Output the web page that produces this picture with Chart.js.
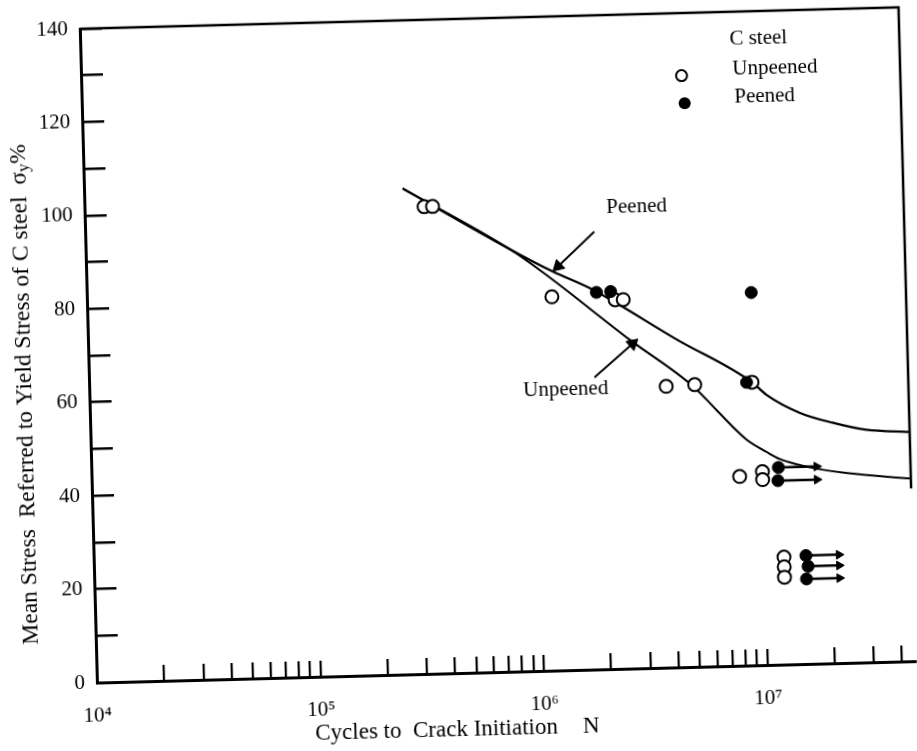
<!DOCTYPE html>
<html>
<head>
<meta charset="utf-8">
<title>Mean stress vs cycles to crack initiation</title>
<script src="https://cdn.jsdelivr.net/npm/chart.js@4.4.1/dist/chart.umd.min.js"></script>
<style>
    html, body { margin: 0; padding: 0; background: #fff; overflow: hidden; }
    #wrap { width: 917px; height: 751px; transform: rotate(-1.5deg); transform-origin: 50% 50%; }
</style>
</head>
<body>
<div id="wrap"><canvas id="chartCanvas" width="917" height="751"></canvas></div>
<script>
// open circles - unpeened specimens (N cycles, stress in % of yield)
const unpeenedN = [3.3e5, 3.6e5, 1.2e6, 2.3e6, 2.5e6, 3.8e6, 5.1e6, 9.2e6, 7.9e6, 1.0e7, 1.0e7, 1.22e7, 1.22e7, 1.22e7];
const unpeenedS = [100, 100, 80, 79, 79, 60.2, 60.4, 60.6, 40.5, 41.4, 39.7, 23, 20.9, 18.7];

// filled circles - peened specimens
const peenedN = [1.9e6, 2.2e6, 8.7e6, 9.35e6, 1.18e7, 1.17e7, 1.53e7, 1.56e7, 1.53e7];
const peenedS = [80.7, 80.8, 60.6, 79.8, 42.2, 39.4, 23.2, 20.9, 18.2];

// run-outs (no crack), drawn as arrows to the right
const runoutS = [42.2, 39.4, 23.2, 20.9, 18.2];
const runoutFromN = [1.18e7, 1.17e7, 1.53e7, 1.56e7, 1.53e7];
const runoutToN = [1.75e7, 1.75e7, 2.15e7, 2.15e7, 2.15e7];

// fitted curves
const peenedCurveN = [2.66e5, 7.9e5, 1.22e6, 1.83e6, 4.28e6, 9.2e6, 1.06e7, 1.49e7, 2.08e7, 2.94e7, 4.6e7];
const peenedCurveS = [104.0, 90.4, 85.4, 81.3, 70.2, 60.6, 57.9, 53.8, 51.5, 49.8, 49.1];
const unpeenedCurveN = [2.66e5, 7.9e5, 1.10e6, 2.64e6, 5.08e6, 6.32e6, 8.55e6, 1.05e7, 1.2e7, 1.42e7, 1.85e7, 2.4e7, 4.6e7];
const unpeenedCurveS = [104.0, 90.4, 85.3, 70.4, 59.8, 54.9, 48.4, 45.6, 44.0, 42.8, 41.5, 40.6, 39.1];

// axes
const xTickValues = [
    1e4, 2e4, 3e4, 4e4, 5e4, 6e4, 7e4, 8e4, 9e4,
    1e5, 2e5, 3e5, 4e5, 5e5, 6e5, 7e5, 8e5, 9e5,
    1e6, 2e6, 3e6, 4e6, 5e6, 6e6, 7e6, 8e6, 9e6,
    1e7, 2e7, 3e7, 4e7
];
const xTickLabels = { 1e4: '10⁴', 1e5: '10⁵', 1e6: '10⁶', 1e7: '10⁷' };
const yTickValues = [0, 10, 20, 30, 40, 50, 60, 70, 80, 90, 100, 110, 120, 130, 140];
const yTickLabels = ['0', '20', '40', '60', '80', '100', '120', '140'];

const xTitle = 'Cycles to  Crack Initiation';
const xTitleSymbol = 'N';
const yTitle = 'Mean Stress  Referred to Yield Stress of C steel  σ';

// labels on the curves and their pointer arrows
const curveLabels = [
    { text: 'Peened', n: 2.94e6, s: 98.8 },
    { text: 'Unpeened', n: 1.35e6, s: 60.1 }
];
const pointerFromN = [1.89e6, 1.82e6];
const pointerFromS = [93.7, 62.5];
const pointerToN = [1.29e6, 2.72e6];
const pointerToS = [86.5, 69.5];

// key
const legendTitle = { text: 'C steel', n: 8.0e6, s: 134.1 };
const legendItems = [
    { text: 'Unpeened', filled: false, markN: 4.84e6, markS: 126.6, n: 8.18e6, s: 127.7 },
    { text: 'Peened', filled: true, markN: 4.96e6, markS: 120.7, n: 8.28e6, s: 121.6 }
];

const SERIF = '"Liberation Serif", "Times New Roman", "DejaVu Serif", serif';

function toPoints(ns, ss) {
    return ns.map((n, i) => ({ x: n, y: ss[i] }));
}

function arrowDataset(fromN, fromS, toN, toS, width, head) {
    return {
        type: 'line',
        data: [{ x: fromN, y: fromS }, { x: toN, y: toS }],
        borderColor: '#000',
        backgroundColor: '#000',
        borderWidth: width,
        pointStyle: 'triangle',
        pointRadius: [0, head],
        pointBorderWidth: 1,
        pointRotation: ctx => {
            const sx = ctx.chart.scales.x;
            const sy = ctx.chart.scales.y;
            const dx = sx.getPixelForValue(toN) - sx.getPixelForValue(fromN);
            const dy = sy.getPixelForValue(toS) - sy.getPixelForValue(fromS);
            return Math.atan2(dx, -dy) * 180 / Math.PI;
        }
    };
}

const datasets = [
    {
        type: 'scatter',
        label: 'Peened',
        data: toPoints(peenedN, peenedS),
        pointStyle: 'circle',
        pointRadius: 6,
        pointBorderWidth: 1,
        borderColor: '#000',
        backgroundColor: '#000'
    },
    {
        type: 'scatter',
        label: 'Unpeened',
        data: toPoints(unpeenedN, unpeenedS),
        pointStyle: 'circle',
        pointRadius: 6.5,
        pointBorderWidth: 2,
        borderColor: '#000',
        backgroundColor: '#fff'
    },
    {
        type: 'line',
        data: toPoints(peenedCurveN, peenedCurveS),
        borderColor: '#000',
        borderWidth: 2.2,
        pointRadius: 0,
        cubicInterpolationMode: 'monotone'
    },
    {
        type: 'line',
        data: toPoints(unpeenedCurveN, unpeenedCurveS),
        borderColor: '#000',
        borderWidth: 2,
        pointRadius: 0,
        cubicInterpolationMode: 'monotone'
    }
];

runoutS.forEach((s, i) => {
    datasets.push(arrowDataset(runoutFromN[i], s, runoutToN[i], s, 2.5, 5));
});
pointerFromN.forEach((n, i) => {
    datasets.push(arrowDataset(n, pointerFromS[i], pointerToN[i], pointerToS[i], 2, 7));
});

// top and right edges of the frame
const framePlugin = {
    id: 'frame',
    afterDraw(chart) {
        const { ctx, chartArea } = chart;
        const yScale = chart.scales.y;
        ctx.save();
        ctx.strokeStyle = '#000';
        ctx.lineWidth = 2.5;
        ctx.beginPath();
        ctx.moveTo(chartArea.left, chartArea.top);
        ctx.lineTo(chartArea.right, chartArea.top);
        ctx.lineTo(chartArea.right, yScale.getPixelForValue(37));
        ctx.stroke();
        ctx.restore();
    }
};

// key, curve labels and axis titles
const textPlugin = {
    id: 'texts',
    afterDraw(chart) {
        const { ctx, chartArea } = chart;
        const sx = chart.scales.x;
        const sy = chart.scales.y;
        ctx.save();
        ctx.fillStyle = '#000';
        ctx.strokeStyle = '#000';
        ctx.textBaseline = 'middle';

        ctx.font = '21px ' + SERIF;
        ctx.textAlign = 'center';
        curveLabels.forEach(l => {
            ctx.fillText(l.text, sx.getPixelForValue(l.n), sy.getPixelForValue(l.s));
        });

        ctx.textAlign = 'left';
        ctx.fillText(legendTitle.text, sx.getPixelForValue(legendTitle.n), sy.getPixelForValue(legendTitle.s));
        legendItems.forEach(item => {
            ctx.fillText(item.text, sx.getPixelForValue(item.n), sy.getPixelForValue(item.s));
            ctx.beginPath();
            ctx.arc(sx.getPixelForValue(item.markN), sy.getPixelForValue(item.markS), item.filled ? 6 : 5.5, 0, Math.PI * 2);
            ctx.lineWidth = 2;
            if (item.filled) {
                ctx.fill();
            } else {
                ctx.stroke();
            }
        });

        // x title
        ctx.font = '23px ' + SERIF;
        ctx.fillText(xTitle, chartArea.left + 217, chartArea.bottom + 57);
        ctx.textAlign = 'center';
        ctx.fillText(xTitleSymbol, chartArea.left + 493, chartArea.bottom + 57);

        // y title with subscript
        ctx.translate(chartArea.left - 64, (chartArea.top + chartArea.bottom) / 2 + 37);
        ctx.rotate(-Math.PI / 2);
        ctx.textAlign = 'left';
        ctx.font = '23.5px ' + SERIF;
        const w1 = ctx.measureText(yTitle).width;
        const w3 = ctx.measureText('%').width;
        ctx.font = '17px ' + SERIF;
        const w2 = ctx.measureText('y').width;
        let x = -(w1 + w2 + w3) / 2;
        ctx.font = '23.5px ' + SERIF;
        ctx.fillText(yTitle, x, 0);
        x += w1;
        ctx.font = '17px ' + SERIF;
        ctx.fillText('y', x, 5);
        x += w2;
        ctx.font = '23.5px ' + SERIF;
        ctx.fillText('%', x, 0);
        ctx.restore();
    }
};

const ctx = document.getElementById('chartCanvas').getContext('2d');
const chart = new Chart(ctx, {
    type: 'scatter',
    data: { datasets: datasets },
    options: {
        responsive: false,
        animation: false,
        events: [],
        layout: { padding: { top: 19, right: 9, left: 0, bottom: 0 } },
        plugins: {
            legend: { display: false },
            tooltip: { enabled: false }
        },
        scales: {
            x: {
                type: 'logarithmic',
                min: 1e4,
                max: 4.6e7,
                afterFit: scale => {
                    scale.height = 78;
                    scale.paddingLeft = 0;
                    scale.paddingRight = 0;
                },
                afterBuildTicks: scale => {
                    scale.ticks = xTickValues.map(v => ({ value: v }));
                },
                grid: {
                    drawOnChartArea: false,
                    tickLength: -16,
                    lineWidth: 2.2,
                    color: '#000'
                },
                border: { color: '#000', width: 3 },
                ticks: {
                    autoSkip: false,
                    maxRotation: 0,
                    padding: 37,
                    color: '#000',
                    font: { family: SERIF, size: 21 },
                    callback: v => xTickLabels[v] || ''
                }
            },
            y: {
                min: 0,
                max: 140,
                afterFit: scale => {
                    scale.width = 89;
                    scale.paddingTop = 0;
                    scale.paddingBottom = 0;
                },
                afterBuildTicks: scale => {
                    scale.ticks = yTickValues.map(v => ({ value: v }));
                },
                grid: {
                    drawOnChartArea: false,
                    tickLength: -22,
                    lineWidth: 2.5,
                    color: '#000'
                },
                border: { color: '#000', width: 3 },
                ticks: {
                    autoSkip: false,
                    padding: 34,
                    color: '#000',
                    font: { family: SERIF, size: 21 },
                    callback: v => yTickLabels.includes(String(v)) ? String(v) : ''
                }
            }
        }
    },
    plugins: [framePlugin, textPlugin]
});
</script>
</body>
</html>
